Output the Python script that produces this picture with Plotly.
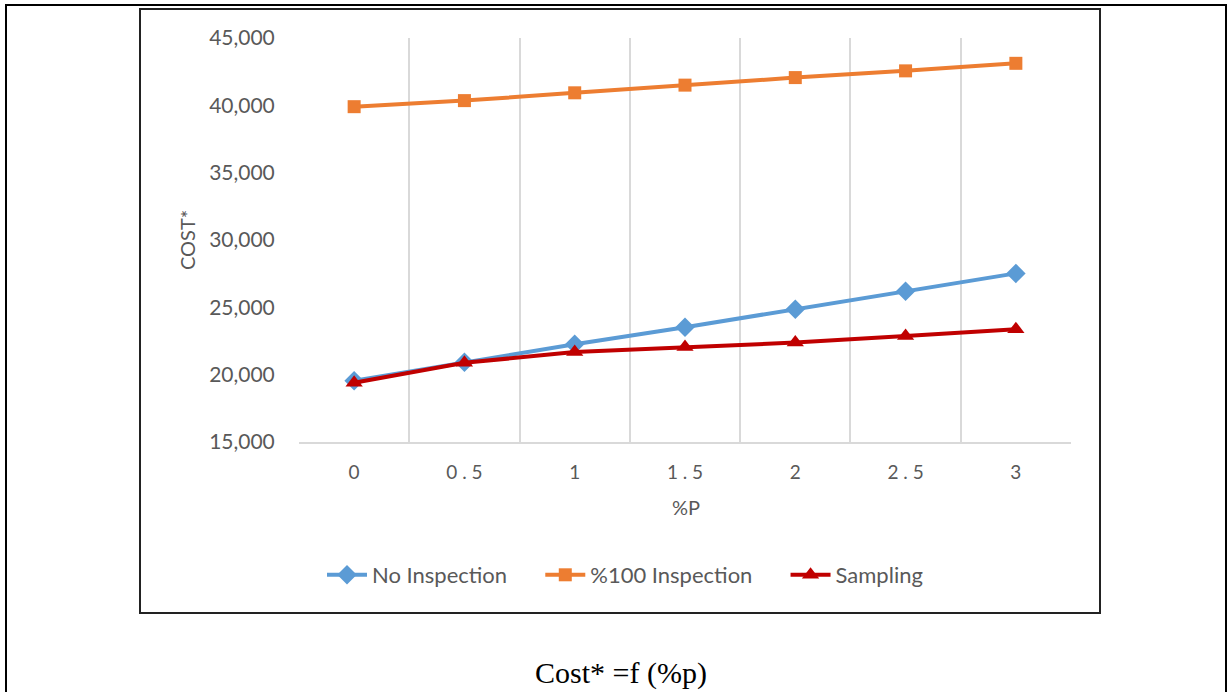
import plotly.graph_objects as go

# ---- data ----
p_values = [0, 0.5, 1, 1.5, 2, 2.5, 3]
p_labels = ["0", "0 . 5", "1", "1 . 5", "2", "2 . 5", "3"]
no_inspection = [19550, 20930, 22260, 23520, 24850, 26200, 27520]
full_inspection = [39900, 40350, 40930, 41500, 42060, 42560, 43120]
sampling = [19400, 20880, 21680, 22050, 22380, 22880, 23380]
y_ticks = [15000, 20000, 25000, 30000, 35000, 40000, 45000]
series_names = ["No Inspection", "%100 Inspection", "Sampling"]

W, H = 1228, 692
L, R, T, B = 299, 157, 38, 250
PW, PH = W - L - R, H - T - B

def px(x):
    return (x - L) / PW

def py(y):
    return (H - B - y) / PH

FONT = "Lato"
GRAY = "#595959"
PAD = "\u00a0" * 5

fig = go.Figure()
fig.add_trace(go.Scatter(x=p_values, y=no_inspection, name=series_names[0] + PAD,
                         mode="lines+markers",
                         line=dict(color="#5B9BD5", width=4),
                         marker=dict(symbol="diamond", size=15, color="#5B9BD5")))
fig.add_trace(go.Scatter(x=p_values, y=full_inspection, name=series_names[1] + PAD,
                         mode="lines+markers",
                         line=dict(color="#ED7D31", width=4),
                         marker=dict(symbol="square", size=13, color="#ED7D31")))
fig.add_trace(go.Scatter(x=p_values, y=sampling, name=series_names[2],
                         mode="lines+markers",
                         line=dict(color="#C00000", width=4),
                         marker=dict(symbol="triangle-up", size=15, color="#C00000")))

fig.update_layout(
    width=W, height=H,
    margin=dict(l=L, r=R, t=T, b=B, pad=0),
    paper_bgcolor="white", plot_bgcolor="white",
    font=dict(family=FONT, color=GRAY),
    showlegend=True,
    legend=dict(orientation="h", x=px(625), xanchor="center", y=py(575), yanchor="middle",
                font=dict(family=FONT, size=22, color=GRAY), itemwidth=40,
                bgcolor="rgba(0,0,0,0)"),
    xaxis=dict(range=[-0.25, 3.25], tickvals=p_values, ticktext=p_labels,
               showgrid=False, zeroline=False,
               showline=True, linecolor="#D9D9D9", linewidth=2,
               ticks="outside", ticklen=12, tickcolor="rgba(0,0,0,0)",
               tickfont=dict(family=FONT, size=19, color=GRAY),
               minor=dict(tickvals=[-0.25, 0.25, 0.75, 1.25, 1.75, 2.25, 2.75, 3.25],
                          showgrid=True, gridcolor="#D9D9D9", gridwidth=2, ticks="")),
    yaxis=dict(range=[15000, 45000], tickvals=y_ticks, tickformat=",",
               showgrid=False, zeroline=False, showline=False,
               ticks="outside", ticklen=19, tickcolor="rgba(0,0,0,0)",
               tickfont=dict(family=FONT, size=21, color=GRAY)),
)

fig.add_annotation(text="COST*", xref="paper", yref="paper", x=px(187), y=py(240),
                   xanchor="center", yanchor="middle",
                   textangle=-90, showarrow=False,
                   font=dict(family=FONT, size=20, color=GRAY))
fig.add_annotation(text="%P", xref="paper", yref="paper", x=px(686), y=py(507),
                   xanchor="center", yanchor="middle",
                   showarrow=False, font=dict(family=FONT, size=20, color=GRAY))
fig.add_annotation(text="Cost* =f (%p)", xref="paper", yref="paper", x=px(621), y=py(673),
                   xanchor="center", yanchor="middle",
                   showarrow=False, font=dict(family="Liberation Serif", size=30, color="black"))

# inner chart frame
fig.add_shape(type="rect", xref="paper", yref="paper",
              x0=px(140), x1=px(1100), y0=py(613), y1=py(9),
              line=dict(color="#222222", width=2), fillcolor="rgba(0,0,0,0)", layer="below")
# outer frame
fig.add_shape(type="rect", xref="paper", yref="paper",
              x0=px(6), x1=px(1226), y0=py(720), y1=py(5),
              line=dict(color="black", width=2), fillcolor="rgba(0,0,0,0)", layer="below")

fig.write_html("out.html")
